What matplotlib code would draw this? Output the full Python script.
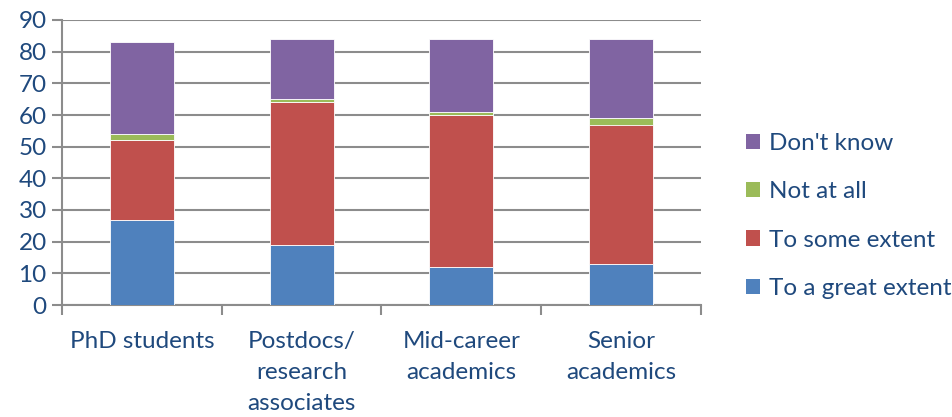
import numpy as np
import matplotlib.pyplot as plt
from matplotlib.patches import Patch

categories = ["PhD students", "Postdocs/\nresearch\nassociates", "Mid-career\nacademics", "Senior\nacademics"]
great = [27, 19, 12, 13]
some = [25, 45, 48, 44]
not_at_all = [2, 1, 1, 2]
dont_know = [29, 19, 23, 25]

series = [
    ("To a great extent", great, "#4F81BD"),
    ("To some extent", some, "#C0504D"),
    ("Not at all", not_at_all, "#9BBB59"),
    ("Don't know", dont_know, "#8064A2"),
]

txt = "#1F497D"
grid = "#8C8C8C"
plt.rcParams['font.family'] = ['Lato', 'DejaVu Sans']

fig = plt.figure(figsize=(9.53, 4.17), dpi=100)
ax = fig.add_axes([62 / 953, 1 - 305 / 417, (701 - 62) / 953, (305 - 20) / 417])

x = np.arange(len(categories))
bottom = np.zeros(len(categories))
for name, vals, col in series:
    ax.bar(x, vals, 0.4, bottom=bottom, color=col, edgecolor="white", linewidth=0.6, zorder=3)
    bottom += np.array(vals)

ax.set_xlim(-0.5, len(categories) - 0.5)
ax.set_ylim(0, 90)
ax.set_yticks(range(0, 91, 10))
ax.yaxis.grid(True, color=grid, linewidth=1.5, zorder=0)
for s in ["top", "right"]:
    ax.spines[s].set_visible(False)
for s in ["left", "bottom"]:
    ax.spines[s].set_color(grid)
    ax.spines[s].set_linewidth(1.5)

ax.set_xticks(np.arange(-0.5, len(categories), 1.0))
ax.set_xticklabels([])
ax.set_xticks(x, minor=True)
ax.set_xticklabels(categories, minor=True, fontsize=17.5, color=txt, linespacing=1.58, va="top")
ax.tick_params(axis="x", which="minor", length=0, pad=19)
ax.tick_params(axis="x", which="major", length=7, width=1.5, color=grid)
ax.tick_params(axis="y", length=7, width=1.5, color=grid, labelsize=17.5, labelcolor=txt, pad=4)

handles = [Patch(facecolor=col, label=name) for name, vals, col in reversed(series)]
fig.legend(handles=handles, loc="center left", bbox_to_anchor=(736 / 953, 1 - 216 / 417),
           frameon=False, fontsize=17.5, labelcolor=txt, handlelength=0.6, handleheight=0.6,
           handletextpad=0.35, labelspacing=1.13, borderaxespad=0)

fig.savefig("out.png", dpi=100)
